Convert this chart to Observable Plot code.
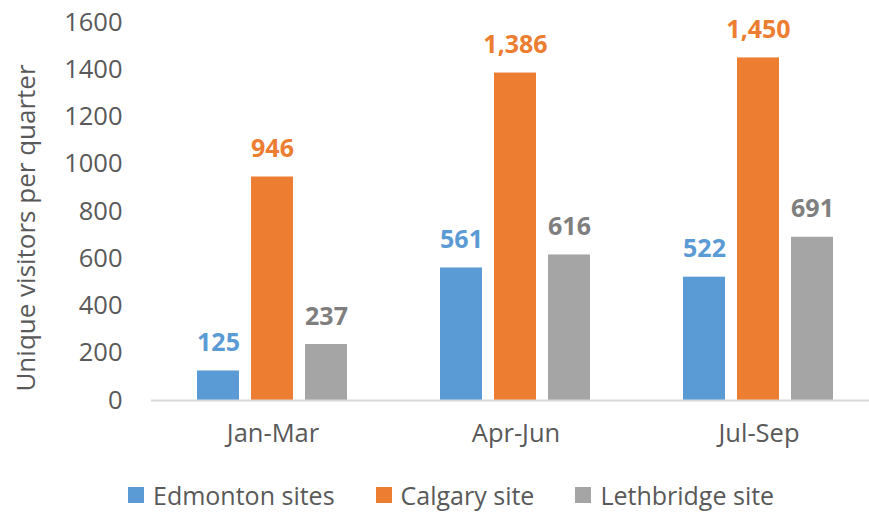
<!DOCTYPE html>
<html>
<head>
<meta charset="utf-8">
<script src="https://cdn.jsdelivr.net/npm/d3@7"></script>
<script src="https://cdn.jsdelivr.net/npm/@observablehq/plot@0.6"></script>
<style>
  html, body { margin: 0; padding: 0; background: #fff; }
  #wrap { position: relative; width: 869px; height: 512px; overflow: hidden; font-family: "Open Sans", Lato, sans-serif; }
  #ylab { position: absolute; left: 25px; top: 228px; transform: translate(-50%, -50%) rotate(-90deg); white-space: nowrap; font-size: 26px; line-height: 30px; color: #595959; }
  #legend { position: absolute; left: 128px; top: 481px; height: 28px; display: flex; align-items: center; font-size: 25px; line-height: 28px; color: #595959; }
  .item { display: flex; align-items: center; margin-right: 41px; }
  .sw { width: 16px; height: 16px; margin-right: 9px; }
</style>
</head>
<body>
<div id="wrap">
  <div id="chart"></div>
  <div id="ylab">Unique visitors per quarter</div>
  <div id="legend"></div>
</div>
<script>
const quarters = ["Jan-Mar", "Apr-Jun", "Jul-Sep"];
const sites = ["Edmonton sites", "Calgary site", "Lethbridge site"];
const edmonton = [125, 561, 522];
const calgary = [946, 1386, 1450];
const lethbridge = [237, 616, 691];
const yTicks = [0, 200, 400, 600, 800, 1000, 1200, 1400, 1600];

const barColors = {"Edmonton sites": "#5B9BD5", "Calgary site": "#ED7D31", "Lethbridge site": "#A5A5A5"};
const labelColors = {"Edmonton sites": "#5B9BD5", "Calgary site": "#ED7D31", "Lethbridge site": "#7F7F7F"};

const series = [edmonton, calgary, lethbridge];
const data = [];
quarters.forEach((q, i) => {
  sites.forEach((s, j) => data.push({quarter: q, site: s, value: series[j][i]}));
});

const fmt = d3.format(",");

const chart = Plot.plot({
  width: 869,
  height: 475,
  marginLeft: 151,
  marginRight: -11,
  marginTop: 22,
  marginBottom: 75,
  style: {fontFamily: "'Open Sans', Lato, sans-serif", fontSize: "25.5px", color: "#595959", background: "#fff"},
  fx: {domain: quarters, paddingInner: 0, paddingOuter: 0, label: null, axis: "bottom", tickSize: 0, tickPadding: 23},
  x: {domain: sites, paddingInner: 0.222, paddingOuter: 0.861, axis: null},
  y: {domain: [0, 1600], ticks: yTicks, tickSize: 0, tickPadding: 29, label: null, tickFormat: d => String(d)},
  color: {type: "identity"},
  facet: {data, x: "quarter"},
  marks: [
    Plot.barY(data, {x: "site", y: "value", fx: "quarter", fill: d => barColors[d.site]}),
    Plot.ruleY([0], {stroke: "#D9D9D9", strokeWidth: 2}),
    Plot.text(data, {x: "site", y: "value", fx: "quarter", text: d => fmt(d.value), fill: d => labelColors[d.site], dy: -28, fontWeight: "bold", fontSize: 25})
  ]
});
document.getElementById("chart").appendChild(chart);

const legend = document.getElementById("legend");
sites.forEach(s => {
  const it = document.createElement("div");
  it.className = "item";
  const sw = document.createElement("div");
  sw.className = "sw";
  sw.style.background = barColors[s];
  const tx = document.createElement("span");
  tx.textContent = s;
  it.appendChild(sw);
  it.appendChild(tx);
  legend.appendChild(it);
});
</script>
</body>
</html>
